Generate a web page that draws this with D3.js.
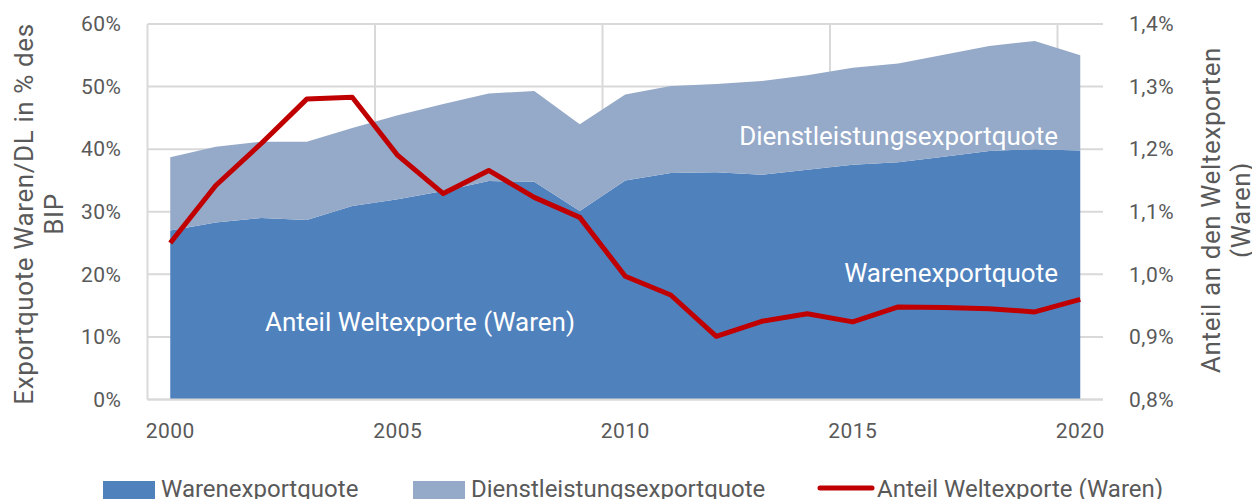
<!DOCTYPE html>
<html>
  <head>
    <meta charset="utf-8">
    <title>Exportquote und Anteil an den Weltexporten</title>
    <script src="https://cdn.jsdelivr.net/npm/d3@7"></script>
    <style>
      body { margin: 0; background: #fff; }
      #chart { display: block; font-family: Roboto, "DejaVu Sans", sans-serif; }
      .tick text, .axisTitle, .legendText { fill: #595959; }
    </style>
  </head>

  <body>
    <svg id="chart" width="1252" height="499"></svg>

    <script>
      // data
      var years = d3.range(2000, 2021).map(String);
      var waren = [27.0, 28.3, 29.0, 28.7, 30.9, 32.0, 33.3, 34.9, 34.8, 30.1, 35.0,
                   36.2, 36.3, 35.9, 36.7, 37.5, 37.9, 38.8, 39.7, 40.0, 39.8];
      var gesamt = [38.7, 40.4, 41.2, 41.2, 43.4, 45.4, 47.2, 48.9, 49.3, 44.0, 48.75,
                    50.1, 50.4, 50.9, 51.8, 53.0, 53.7, 55.1, 56.5, 57.3, 55.0];
      var dienst = gesamt.map(function(d, i) { return +(d - waren[i]).toFixed(2); });
      var weltanteil = [1.05, 1.142, 1.209, 1.28, 1.283, 1.19, 1.129, 1.166, 1.123, 1.091, 0.997,
                        0.967, 0.901, 0.925, 0.937, 0.924, 0.948, 0.947, 0.945, 0.940, 0.960];
      var leftTicks = [0, 10, 20, 30, 40, 50, 60];
      var rightTicks = [0.8, 0.9, 1.0, 1.1, 1.2, 1.3, 1.4];
      var xLabels = ["2000", "2005", "2010", "2015", "2020"];

      var colours = { waren: "#4f81bd", dienst: "#95a9c8", line: "#c00000", grid: "#d9d9d9" };

      // elements
      var chart = d3.select("#chart");
      var margin = { top: 24, right: 149, bottom: 100, left: 147.5 };
      var width = 1252, height = 499;

      var x = d3.scaleBand()
        .domain(years)
        .range([margin.left, width - margin.right])
        .padding(0);
      var xc = function(d) { return x(d) + x.bandwidth() / 2; };
      var y = d3.scaleLinear().domain([0, 60]).range([height - margin.bottom + 0.5, margin.top]);
      var y2 = d3.scaleLinear().domain([0.8, 1.4]).range([height - margin.bottom + 0.5, margin.top]);

      var rows = years.map(function(yr, i) {
        return { year: yr, waren: waren[i], dienst: dienst[i], anteil: weltanteil[i] };
      });
      var stack = d3.stack().keys(["waren", "dienst"])(rows);

      // grid
      var grid = chart.append("g");
      grid.selectAll(".hgrid")
          .data(leftTicks)
        .enter().append("line")
          .attr("x1", margin.left).attr("x2", width - margin.right)
          .attr("y1", function(d) { return y(d); }).attr("y2", function(d) { return y(d); })
          .style("stroke", colours.grid).style("stroke-width", 2);
      grid.selectAll(".vgrid")
          .data(xLabels)
        .enter().append("line")
          .attr("x1", function(d) { return x(d); }).attr("x2", function(d) { return x(d); })
          .attr("y1", margin.top).attr("y2", y(0))
          .style("stroke", colours.grid).style("stroke-width", 2);

      // areas
      var area = d3.area()
        .x(function(d) { return xc(d.data.year); })
        .y0(function(d) { return y(d[0]); })
        .y1(function(d) { return y(d[1]); });
      chart.append("g").selectAll("path")
          .data(stack)
        .enter().append("path")
          .attr("d", area)
          .style("fill", function(d) { return d.key === "waren" ? colours.waren : colours.dienst; });

      // bottom axis line
      chart.append("line")
        .attr("x1", margin.left).attr("x2", width - margin.right)
        .attr("y1", y(0)).attr("y2", y(0))
        .style("stroke", colours.grid).style("stroke-width", 2);

      // line
      var line = d3.line()
        .x(function(d) { return xc(d.year); })
        .y(function(d) { return y2(d.anteil); });
      chart.append("path")
        .datum(rows)
        .attr("d", line)
        .style("fill", "none")
        .style("stroke", colours.line)
        .style("stroke-width", 5)
        .style("stroke-linejoin", "round");

      // axes
      var yAxis = d3.axisLeft(y).tickValues(leftTicks).tickSize(0).tickPadding(26)
        .tickFormat(function(d) { return d + "%"; });
      var y2Axis = d3.axisRight(y2).tickValues(rightTicks).tickSize(0).tickPadding(26)
        .tickFormat(function(d) { return d3.format(".1f")(d).replace(".", ",") + "%"; });
      var xAxis = d3.axisBottom(x).tickValues(xLabels).tickSize(0).tickPadding(24);

      [chart.append("g").attr("transform", "translate(" + margin.left + ",0)").call(yAxis),
       chart.append("g").attr("transform", "translate(" + (width - margin.right) + ",0)").call(y2Axis),
       chart.append("g").attr("transform", "translate(0," + y(0) + ")").call(xAxis)]
        .forEach(function(g) {
          g.select(".domain").remove();
          g.selectAll("text")
            .style("font-size", "21px")
            .style("letter-spacing", "0.5px")
            .style("font-family", "Roboto, sans-serif");
        });

      // axis titles
      var leftTitle = chart.append("text").attr("class", "axisTitle")
        .attr("transform", "translate(33,214) rotate(-90)")
        .attr("text-anchor", "middle")
        .style("font-size", "26px").style("letter-spacing", "0.6px");
      leftTitle.append("tspan").attr("x", 0).attr("dy", 0).text("Exportquote Waren/DL in % des");
      leftTitle.append("tspan").attr("x", 0).attr("dy", 30).text("BIP");

      var rightTitle = chart.append("text").attr("class", "axisTitle")
        .attr("transform", "translate(1220,210) rotate(-90)")
        .attr("text-anchor", "middle")
        .style("font-size", "26px").style("letter-spacing", "0.6px");
      rightTitle.append("tspan").attr("x", 0).attr("dy", 0).text("Anteil an den Weltexporten");
      rightTitle.append("tspan").attr("x", 0).attr("dy", 30).text("(Waren)");

      // in-chart labels
      var labels = [
        { text: "Dienstleistungsexportquote", x: 1058, y: 145, anchor: "end" },
        { text: "Warenexportquote", x: 1058, y: 282, anchor: "end" },
        { text: "Anteil Weltexporte (Waren)", x: 265, y: 331, anchor: "start" }
      ];
      chart.append("g").selectAll("text")
          .data(labels)
        .enter().append("text")
          .attr("x", function(d) { return d.x; })
          .attr("y", function(d) { return d.y; })
          .attr("text-anchor", function(d) { return d.anchor; })
          .style("fill", "#fff")
          .style("font-size", "26px")
          .text(function(d) { return d.text; });

      // legend
      var legendItems = [
        { text: "Warenexportquote", x: 103, type: "rect", colour: colours.waren },
        { text: "Dienstleistungsexportquote", x: 413, type: "rect", colour: colours.dienst },
        { text: "Anteil Weltexporte (Waren)", x: 818, type: "line", colour: colours.line }
      ];
      var legend = chart.append("g").selectAll("g")
          .data(legendItems)
        .enter().append("g")
          .attr("transform", function(d) { return "translate(" + d.x + ",0)"; });
      legend.filter(function(d) { return d.type === "rect"; })
        .append("rect")
          .attr("x", 0).attr("y", 481).attr("width", 52).attr("height", 18)
          .style("fill", function(d) { return d.colour; });
      legend.filter(function(d) { return d.type === "line"; })
        .append("line")
          .attr("x1", 2).attr("x2", 54).attr("y1", 488).attr("y2", 488)
          .style("stroke", function(d) { return d.colour; })
          .style("stroke-width", 5)
          .style("stroke-linecap", "round");
      legend.append("text").attr("class", "legendText")
        .attr("x", function(d) { return d.type === "rect" ? 58 : 59; })
        .attr("y", 497)
        .style("font-size", "24px")
        .text(function(d) { return d.text; });
    </script>
  </body>
</html>
